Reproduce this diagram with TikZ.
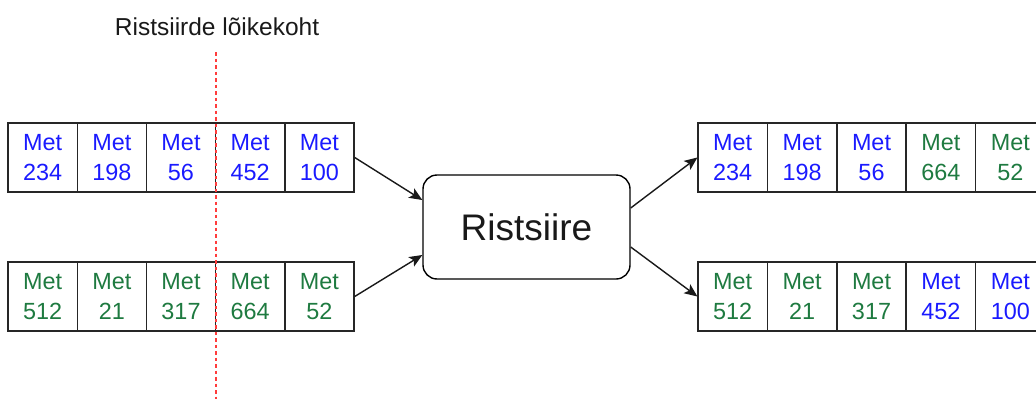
\documentclass[tikz,border=0pt]{standalone}
\usepackage{fontspec}
\setmainfont{Liberation Sans}
\usetikzlibrary{arrows.meta}
\definecolor{metblue}{RGB}{26,26,255}
\definecolor{metgreen}{RGB}{30,122,64}
\definecolor{cutred}{RGB}{255,60,60}
\definecolor{inktext}{RGB}{25,25,25}
\begin{document}
\begin{tikzpicture}[x=1pt,y=-1pt,
  cell/.style={draw=black!85, line width=1.4pt, minimum width=69.2pt,
    minimum height=69pt, inner sep=0pt, align=center,
    font=\fontsize{23.4}{30}\selectfont},
  hub/.style={draw=black, line width=1.4pt, rounded corners=14pt,
    minimum width=207pt, minimum height=104pt, inner sep=0pt,
    font=\fontsize{37}{40}\selectfont, text=inktext},
  conn/.style={draw=black!90, line width=1.4pt,
    -{Stealth[length=13pt,width=11pt,inset=3pt]}},
  cutline/.style={draw=cutred, line width=1.2pt, dash pattern=on 3.5pt off 3pt}
]
\useasboundingbox (0,0) rectangle (1036,399);

% parent chromosomes
\foreach \i/\n/\c in {1/234/metblue,2/198/metblue,3/56/metblue,4/452/metblue,5/100/metblue}
  \node[cell, text=\c] (lt\i) at ({8+69.2*(\i-0.5)},157.5) {Met\\\n};
\foreach \i/\n/\c in {1/512/metgreen,2/21/metgreen,3/317/metgreen,4/664/metgreen,5/52/metgreen}
  \node[cell, text=\c] (lb\i) at ({8+69.2*(\i-0.5)},296.5) {Met\\\n};

% crossover operator
\node[hub] (hub) at (526.5,227) {Ristsiire};

% offspring chromosomes
\foreach \i/\n/\c in {1/234/metblue,2/198/metblue,3/56/metblue,4/664/metgreen,5/52/metgreen}
  \node[cell, text=\c] (rt\i) at ({698+69.4*(\i-0.5)},157.5) {Met\\\n};
\foreach \i/\n/\c in {1/512/metgreen,2/21/metgreen,3/317/metgreen,4/452/metblue,5/100/metblue}
  \node[cell, text=\c] (rb\i) at ({698+69.4*(\i-0.5)},296.5) {Met\\\n};

% connectors
\draw[conn] (lt5.east) -- ([yshift=27pt]hub.west);
\draw[conn] (lb5.east) -- ([yshift=-28pt]hub.west);
\draw[conn] ([yshift=19pt]hub.east) -- (rt1.west);
\draw[conn] ([yshift=-20pt]hub.east) -- (rb1.west);

% crossover point
\node[font=\fontsize{24.5}{28}\selectfont, text=inktext] (cutlabel) at (217,27) {Ristsiirde lõikekoht};
\coordinate (cuttop) at (216,52);
\coordinate (cutbot) at (216,399);
\draw[cutline] (cuttop) -- (cutbot);
\end{tikzpicture}
\end{document}
